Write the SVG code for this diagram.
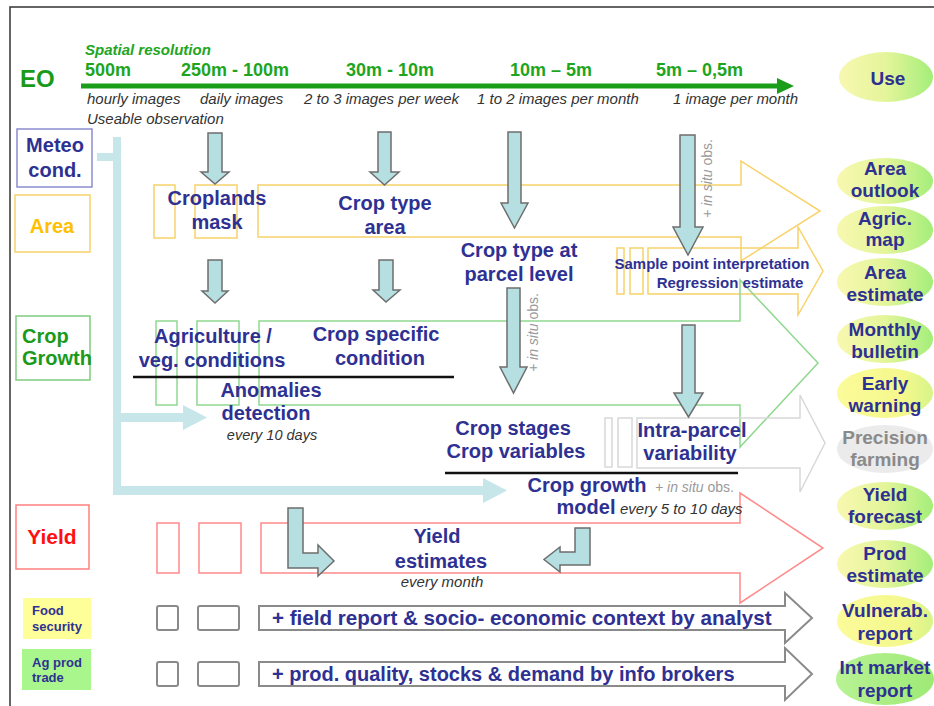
<svg xmlns="http://www.w3.org/2000/svg" width="934" height="706" viewBox="0 0 934 706">
<defs>
<linearGradient id="gYG" x1="0" y1="0" x2="1" y2="0"><stop offset="0" stop-color="#f8f8b0"/><stop offset="0.5" stop-color="#e4f59a"/><stop offset="1" stop-color="#a4ee7a"/></linearGradient>
<linearGradient id="gY" x1="0" y1="0" x2="1" y2="0"><stop offset="0" stop-color="#fbfb9a"/><stop offset="0.7" stop-color="#f4f88c"/><stop offset="1" stop-color="#d6f48a"/></linearGradient>
<linearGradient id="gG" x1="0" y1="0" x2="1" y2="0"><stop offset="0" stop-color="#b8f294"/><stop offset="1" stop-color="#9eea76"/></linearGradient>
<style>
text{font-family:"Liberation Sans",Arial,sans-serif;font-weight:bold}
.b{fill:#2e3192;font-size:20px}
.bm{fill:#2e3192;font-size:20px;text-anchor:middle}
.e{fill:#2e3192;font-size:19px;text-anchor:middle}
.it{font-style:italic;font-weight:normal;fill:#333;font-size:15px}
.res{fill:#1ea51e;font-size:18px}
.gr{font-style:italic;font-weight:normal;fill:#9a9a9a;font-size:14px}
.dn{fill:#b6dfe2;stroke:#6e6e6e;stroke-width:1.5}
.ya{fill:none;stroke:#f8d26a;stroke-width:1.5}
.ga{fill:none;stroke:#90d890;stroke-width:1.5}
.ra{fill:none;stroke:#ff8a8a;stroke-width:1.5}
.pa{fill:none;stroke:#d8d8d8;stroke-width:1.5}
.ka{fill:none;stroke:#8a8a8a;stroke-width:2}
.mc{fill:#c6e6ea}
</style>
</defs>
<rect width="934" height="706" fill="#fff"/>
<path d="M10,706 V7 H934" fill="none" stroke="#333" stroke-width="1.5"/>

<!-- EO header -->
<g id="eo">
<text x="20" y="87" style="font-size:24px;fill:#1a9a1a">EO</text>
<text x="85" y="55" style="font-size:15px;font-style:italic;fill:#22a522">Spatial resolution</text>
<rect x="81" y="83.5" width="697" height="5" fill="#1a9e1a"/>
<polygon points="777,78 794,86 777,94" fill="#1a9e1a"/>
<text class="res" x="85" y="76">500m</text>
<text class="res" x="181" y="76">250m - 100m</text>
<text class="res" x="346" y="76">30m - 10m</text>
<text class="res" x="510" y="76">10m – 5m</text>
<text class="res" x="656" y="76">5m – 0,5m</text>
<text class="it" x="87" y="104">hourly images</text>
<text class="it" x="200" y="104">daily images</text>
<text class="it" x="304" y="104">2 to 3 images per week</text>
<text class="it" x="477" y="104">1 to 2 images per month</text>
<text class="it" x="673" y="104">1 image per month</text>
<text class="it" x="87" y="124">Useable observation</text>
</g>

<!-- row frames (block arrows) -->
<g id="area-row">
<rect class="ya" x="154" y="185" width="21" height="53"/>
<rect class="ya" x="195" y="185" width="42" height="53"/>
<path class="ya" d="M258,185 H741 V161 L820,211 L741,261 V237 H258 Z"/>
<rect class="ya" x="617" y="248" width="7" height="46"/>
<rect class="ya" x="630" y="248" width="13" height="46"/>
<path class="ya" d="M648,248 H798 V227 L823,271 L798,315 V294 H648 Z"/>
</g>
<g id="growth-row">
<rect class="ga" x="156" y="321" width="21" height="84"/>
<rect class="ga" x="197" y="321" width="42" height="84"/>
<path class="ga" d="M259,321 H740 V280 L818,363 L740,447 V405 H259 Z"/>
</g>
<g id="precision-row">
<rect class="pa" x="605" y="418" width="7" height="49"/>
<rect class="pa" x="618" y="418" width="14" height="49"/>
<path class="pa" d="M637,418 H800 V395 L825,443 L800,492 V468 H637 Z"/>
</g>
<g id="yield-row">
<rect class="ra" x="157" y="523" width="22" height="50"/>
<rect class="ra" x="199" y="523" width="42" height="50"/>
<path class="ra" d="M261,523 H740 V493 L823,548 L740,603 V573 H261 Z"/>
</g>
<g id="food-row">
<rect class="ka" x="157" y="606" width="21" height="24" rx="2"/>
<rect class="ka" x="198" y="606" width="41" height="24" rx="2"/>
<path class="ka" d="M259,606 H785 V593 L812,618 L785,643 V630 H259 Z"/>
<text class="b" x="272" y="625" style="font-size:20.6px">+ field report &amp; socio- economic context by analyst</text>
</g>
<g id="trade-row">
<rect class="ka" x="157" y="662" width="21" height="24" rx="2"/>
<rect class="ka" x="198" y="662" width="41" height="24" rx="2"/>
<path class="ka" d="M259,662 H785 V648 L812,674 L785,700 V686 H259 Z"/>
<text class="b" x="272" y="681">+ prod. quality, stocks &amp; demand by info brokers</text>
</g>

<!-- connectors -->
<g id="connectors">
<rect class="mc" x="97" y="153" width="22" height="8"/>
<rect class="mc" x="113" y="137" width="8" height="358"/>
<rect class="mc" x="121" y="413" width="63" height="9"/>
<polygon class="mc" points="183,405 207,417.5 183,430"/>
<rect class="mc" x="113" y="486" width="371" height="9"/>
<polygon class="mc" points="483,478 507,490.5 483,503"/>
<polygon class="dn" points="208,133 222,133 222,172 229,172 215,184 201,172 208,172"/>
<polygon class="dn" points="378,132 391,132 391,172 399,172 384.5,185 370,172 378,172"/>
<polygon class="dn" points="508,132 521,132 521,203 528,203 514.5,228 501,203 508,203"/>
<polygon class="dn" points="680,135 695,135 695,227 703,227 688,255 673,227 680,227"/>
<polygon class="dn" points="208,260 222,260 222,291 228,291 215,303 202,291 208,291"/>
<polygon class="dn" points="379,260 393,260 393,290 400,290 386,302 373,290 379,290"/>
<polygon class="dn" points="507,288 520,288 520,367 527,367 513.5,393 500,367 507,367"/>
<polygon class="dn" points="682,325 695,325 695,393 703,393 688.5,417 674,393 682,393"/>
<polygon class="dn" points="288,508 303,508 303,553 318,553 318,545 334,561 318,576 318,568 288,568"/>
<polygon class="dn" points="590,528 575,528 575,552 560,552 560,547 544,559.5 560,572 560,565 590,565"/>
<line x1="133" y1="377" x2="454" y2="377" stroke="#111" stroke-width="2.5"/>
<line x1="445" y1="473" x2="738" y2="473" stroke="#111" stroke-width="2.5"/>
</g>

<!-- left labels -->
<g id="meteo"><rect x="17" y="129" width="75" height="58" fill="#fff" stroke="#8c8cd0" stroke-width="1.5"/>
<text class="bm" x="55" y="152">Meteo</text><text class="bm" x="55" y="177">cond.</text></g>
<g id="area"><rect x="15" y="195" width="75" height="57" fill="#fff" stroke="#f8d26a" stroke-width="1.5"/>
<text x="52" y="233" style="font-size:20px;fill:#ffc000;text-anchor:middle">Area</text></g>
<g id="crop-growth"><rect x="16" y="316" width="74" height="64" fill="#fff" stroke="#80cc80" stroke-width="1.5"/>
<text x="22" y="343" style="font-size:20px;fill:#1a9a1a">Crop</text><text x="22" y="365" style="font-size:20px;fill:#1a9a1a">Growth</text></g>
<g id="yield"><rect x="16" y="505" width="73" height="64" fill="#fff" stroke="#ff8080" stroke-width="1.5"/>
<text x="52" y="544" style="font-size:21px;fill:#ff1010;text-anchor:middle">Yield</text></g>
<g id="food-security"><rect x="23" y="598" width="68" height="41" fill="#ffff99"/>
<text x="32" y="615" style="font-size:13px;fill:#2e3192">Food</text><text x="32" y="631" style="font-size:13px;fill:#2e3192">security</text></g>
<g id="ag-prod-trade"><rect x="22" y="649" width="69" height="41" fill="#a9f78c"/>
<text x="32" y="667" style="font-size:13px;fill:#2e3192">Ag prod</text><text x="32" y="682" style="font-size:13px;fill:#2e3192">trade</text></g>

<!-- inner nodes -->
<g id="croplands-mask"><text class="bm" x="217" y="205">Croplands</text><text class="bm" x="217" y="229">mask</text></g>
<g id="crop-type-area"><text class="bm" x="385" y="210">Crop type</text><text class="bm" x="385" y="234">area</text></g>
<g id="crop-type-parcel"><text class="bm" x="519" y="257">Crop type at</text><text class="bm" x="519" y="281">parcel level</text></g>
<g id="sample-point"><text x="712" y="269" style="font-size:15px;fill:#2e3192;text-anchor:middle">Sample point interpretation</text><text x="730" y="288" style="font-size:15px;fill:#2e3192;text-anchor:middle">Regression estimate</text></g>
<g id="agri-veg"><text class="bm" x="213" y="343">Agriculture /</text><text class="bm" x="212" y="367">veg. conditions</text></g>
<g id="crop-specific"><text class="bm" x="376" y="341">Crop specific</text><text class="bm" x="380" y="365">condition</text></g>
<g id="anomalies"><text class="bm" x="271" y="397">Anomalies</text><text class="bm" x="266" y="420">detection</text><text class="it" x="272" y="440" text-anchor="middle" style="font-size:14.5px">every 10 days</text></g>
<g id="crop-stages"><text class="bm" x="513" y="435">Crop stages</text><text class="bm" x="516" y="458">Crop variables</text></g>
<g id="intra-parcel"><text class="bm" x="692" y="437">Intra-parcel</text><text class="bm" x="690" y="460">variability</text></g>
<g id="crop-growth-model"><text class="bm" x="587" y="492">Crop growth</text><text class="bm" x="586" y="514">model</text>
<text class="gr" x="655" y="492">+ in situ <tspan font-style="normal">obs.</tspan></text>
<text class="it" x="620" y="514">every 5 to 10 days</text></g>
<g id="yield-estimates"><text class="bm" x="437" y="543">Yield</text><text class="bm" x="441" y="568">estimates</text><text class="it" x="442" y="587" text-anchor="middle">every month</text></g>
<g id="insitu-notes">
<text class="gr" transform="translate(712,218) rotate(-90)">+ in situ <tspan font-style="normal">obs.</tspan></text>
<text class="gr" transform="translate(538,372) rotate(-90)">+ in situ <tspan font-style="normal">obs.</tspan></text>
</g>

<!-- use ellipses -->
<g id="use"><ellipse cx="886" cy="77" rx="47" ry="25" fill="url(#gYG)"/><text class="e" x="888" y="85">Use</text></g>
<g id="area-outlook"><ellipse cx="885" cy="181" rx="48" ry="23" fill="url(#gYG)"/><text class="e" x="885" y="175">Area</text><text class="e" x="885" y="197">outlook</text></g>
<g id="agric-map"><ellipse cx="885" cy="230" rx="48" ry="24" fill="url(#gYG)"/><text class="e" x="885" y="225">Agric.</text><text class="e" x="885" y="246">map</text></g>
<g id="area-estimate"><ellipse cx="885" cy="282" rx="48" ry="24" fill="url(#gYG)"/><text class="e" x="885" y="279">Area</text><text class="e" x="885" y="301">estimate</text></g>
<g id="monthly-bulletin"><ellipse cx="885" cy="339" rx="48" ry="24" fill="url(#gYG)"/><text class="e" x="885" y="336">Monthly</text><text class="e" x="885" y="358">bulletin</text></g>
<g id="early-warning"><ellipse cx="885" cy="393" rx="48" ry="25" fill="url(#gY)"/><text class="e" x="885" y="390">Early</text><text class="e" x="885" y="412">warning</text></g>
<g id="precision-farming"><ellipse cx="885" cy="449" rx="48" ry="24" fill="#ebebeb"/><text class="e" x="885" y="444" style="fill:#8a8a8a">Precision</text><text class="e" x="885" y="466" style="fill:#8a8a8a">farming</text></g>
<g id="yield-forecast"><ellipse cx="885" cy="506" rx="48" ry="24" fill="url(#gYG)"/><text class="e" x="885" y="501">Yield</text><text class="e" x="885" y="523">forecast</text></g>
<g id="prod-estimate"><ellipse cx="885" cy="564" rx="48" ry="24" fill="url(#gYG)"/><text class="e" x="885" y="560">Prod</text><text class="e" x="885" y="582">estimate</text></g>
<g id="vulnerab-report"><ellipse cx="885" cy="621" rx="48" ry="26" fill="url(#gY)"/><text class="e" x="885" y="617">Vulnerab.</text><text class="e" x="885" y="640">report</text></g>
<g id="int-market-report"><ellipse cx="885" cy="679" rx="49" ry="26" fill="url(#gG)"/><text class="e" x="885" y="674">Int market</text><text class="e" x="885" y="697">report</text></g>
</svg>
